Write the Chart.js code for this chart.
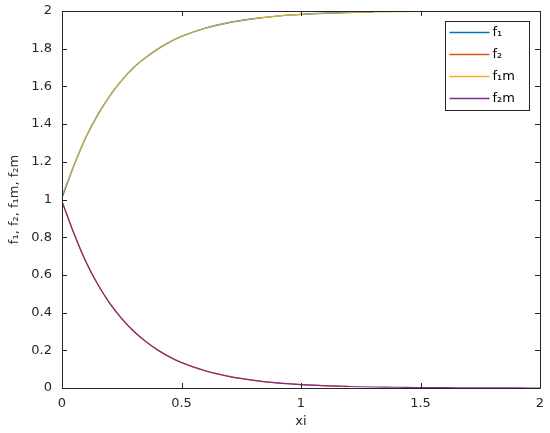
<!DOCTYPE html>
<html>
<head>
<meta charset="utf-8">
<script src="https://cdn.jsdelivr.net/npm/chart.js@4.4.1/dist/chart.umd.min.js"></script>
<style>
  html, body { margin: 0; padding: 0; background: #fff; }
  #wrap { width: 550px; height: 433px; }
</style>
</head>
<body>
<div id="wrap"><canvas id="myChart" width="550" height="433"></canvas></div>
<script>
// values
const xiFine = [0, 0.05, 0.1, 0.15, 0.2, 0.25, 0.3, 0.35, 0.4, 0.45, 0.5, 0.6, 0.7, 0.8, 0.9, 1.0, 1.1, 1.2, 1.3];
const xiAll = [0, 0.05, 0.1, 0.15, 0.2, 0.25, 0.3, 0.35, 0.4, 0.45, 0.5, 0.6, 0.7, 0.8, 0.9, 1.0, 1.1, 1.2, 1.3, 1.4, 1.5, 1.6, 1.7, 1.8, 1.9, 2.0];

const f1 = [1.01, 1.18, 1.33, 1.45, 1.55, 1.632, 1.70, 1.753, 1.798, 1.835, 1.865, 1.909, 1.939, 1.959, 1.973, 1.982, 1.988, 1.992, 1.995];
const f2 = [0.99, 0.82, 0.67, 0.549, 0.449, 0.368, 0.301, 0.247, 0.202, 0.165, 0.135, 0.091, 0.061, 0.041, 0.027, 0.018, 0.012, 0.008];
const f1m = [1.02, 1.18, 1.33, 1.45, 1.55, 1.632, 1.70, 1.753, 1.798, 1.835, 1.865, 1.909, 1.939, 1.959, 1.973, 1.982, 1.988, 1.992, 1.995, 1.996, 1.998, 1.998, 1.999, 1.999, 2.0, 2.0];
const f2m = [0.99, 0.82, 0.67, 0.549, 0.449, 0.368, 0.301, 0.247, 0.202, 0.165, 0.135, 0.091, 0.061, 0.041, 0.027, 0.018, 0.012, 0.008, 0.005, 0.004, 0.002, 0.002, 0.001, 0.001, 0.0005, 0.0003];

const names = ["f\u2081", "f\u2082", "f\u2081m", "f\u2082m"];
const colors = ["#0072BD", "#D95319", "#EDB120", "#7E2F8E"];

const xTicks = [0, 0.5, 1, 1.5, 2];
const yTicks = [0, 0.2, 0.4, 0.6, 0.8, 1, 1.2, 1.4, 1.6, 1.8, 2];

function pts(xs, ys) {
  return ys.map((y, i) => ({ x: xs[i], y: y }));
}

const axisColor = "#262626";
const fontFam = "'DejaVu Sans', sans-serif";

// box, inward ticks on all four sides, and the legend
const matlabAxes = {
  id: "matlabAxes",
  afterDraw(chart) {
    const ctx = chart.ctx;
    const a = chart.chartArea;
    const xs = chart.scales.x, ys = chart.scales.y;
    ctx.save();
    ctx.strokeStyle = axisColor;
    ctx.lineWidth = 1;
    ctx.beginPath();
    ctx.rect(Math.round(a.left) + 0.5, Math.round(a.top) + 0.5, Math.round(a.right - a.left), Math.round(a.bottom - a.top));
    ctx.stroke();
    const tl = 5;
    ctx.beginPath();
    xTicks.forEach(v => {
      const px = Math.round(xs.getPixelForValue(v)) + 0.5;
      ctx.moveTo(px, a.bottom); ctx.lineTo(px, a.bottom - tl);
      ctx.moveTo(px, a.top); ctx.lineTo(px, a.top + tl);
    });
    yTicks.forEach(v => {
      const py = Math.round(ys.getPixelForValue(v)) + 0.5;
      ctx.moveTo(a.left, py); ctx.lineTo(a.left + tl, py);
      ctx.moveTo(a.right, py); ctx.lineTo(a.right - tl, py);
    });
    ctx.stroke();

    // legend
    const lx = 445.5, ly = 21.5, lw = 84, lh = 89;
    ctx.fillStyle = "#fff";
    ctx.fillRect(lx, ly, lw, lh);
    ctx.strokeStyle = axisColor;
    ctx.lineWidth = 1;
    ctx.strokeRect(lx, ly, lw, lh);
    ctx.font = "13px " + fontFam;
    ctx.textBaseline = "middle";
    names.forEach((n, i) => {
      const y = ly + 11 + i * 22;
      ctx.strokeStyle = colors[i];
      ctx.lineWidth = 1.5;
      ctx.beginPath();
      ctx.moveTo(lx + 4, y);
      ctx.lineTo(lx + 44, y);
      ctx.stroke();
      ctx.fillStyle = "#000";
      ctx.fillText(n, lx + 47, y);
    });
    ctx.restore();
  }
};

new Chart(document.getElementById("myChart"), {
  type: "line",
  data: {
    datasets: [{
      label: names[0],
      data: pts(xiFine, f1),
      borderColor: colors[0],
      borderWidth: 1.4,
      order: 4
    }, {
      label: names[1],
      data: pts(xiFine, f2),
      borderColor: colors[1],
      borderWidth: 1.4,
      order: 3
    }, {
      label: names[2],
      data: pts(xiAll, f1m),
      borderColor: colors[2],
      borderWidth: 1.1,
      order: 2
    }, {
      label: names[3],
      data: pts(xiAll, f2m),
      borderColor: colors[3],
      borderWidth: 1.1,
      order: 1
    }]
  },
  options: {
    responsive: false,
    animation: false,
    devicePixelRatio: 1,
    layout: { padding: { top: 11, right: 10, left: 0, bottom: 0 } },
    elements: {
      point: { radius: 0 },
      line: { cubicInterpolationMode: "monotone", fill: false }
    },
    plugins: {
      legend: { display: false },
      tooltip: { enabled: false }
    },
    scales: {
      x: {
        type: "linear",
        min: 0, max: 2,
        afterFit: s => { s.height = 45; },
        afterBuildTicks: s => { s.ticks = xTicks.map(v => ({ value: v })); },
        grid: { display: false },
        border: { display: false },
        ticks: {
          color: axisColor,
          font: { family: fontFam, size: 13 },
          padding: 0,
          maxRotation: 0,
          callback: v => String(+v.toFixed(2))
        },
        title: {
          display: true,
          text: "xi",
          color: axisColor,
          font: { family: fontFam, size: 13 },
          padding: { top: 0 }
        }
      },
      y: {
        type: "linear",
        min: 0, max: 2,
        afterFit: s => { s.width = 62; },
        afterBuildTicks: s => { s.ticks = yTicks.map(v => ({ value: v })); },
        grid: { display: false },
        border: { display: false },
        ticks: {
          color: axisColor,
          font: { family: fontFam, size: 13 },
          padding: 2,
          callback: v => String(+v.toFixed(2))
        },
        title: {
          display: true,
          text: "f\u2081, f\u2082, f\u2081m, f\u2082m",
          color: axisColor,
          font: { family: fontFam, size: 13 },
          padding: { top: 7, bottom: 0 }
        }
      }
    }
  },
  plugins: [matlabAxes]
});
</script>
</body>
</html>
